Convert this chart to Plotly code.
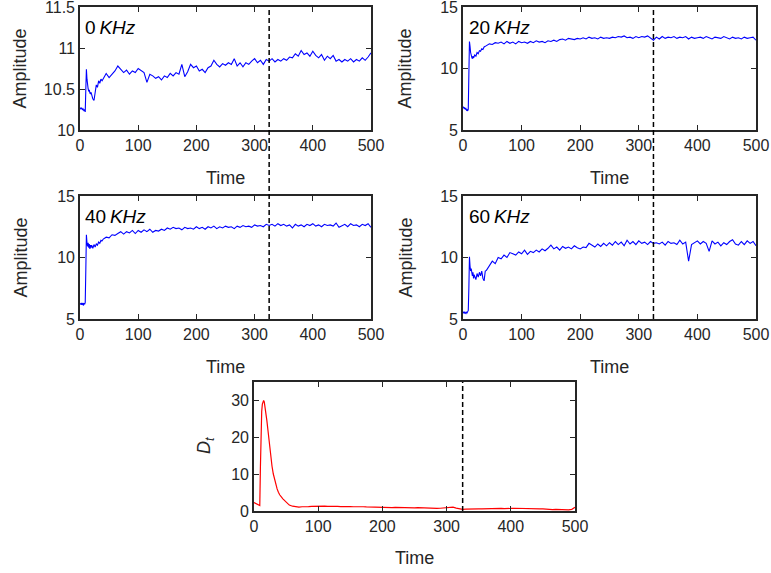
import plotly.graph_objects as go

# ---------------- data ----------------
time = list(range(0, 20, 1)) + list(range(20, 40, 2)) + list(range(40, 505, 5))

amp_0khz = [10.27, 10.26, 10.27, 10.26, 10.25, 10.26, 10.24, 10.23, 10.25, 10.22,
            10.50, 10.74, 10.62, 10.53, 10.50, 10.47, 10.49, 10.45, 10.44, 10.46,
            10.42, 10.38, 10.36, 10.47, 10.55, 10.52, 10.60, 10.57, 10.62, 10.60,
            10.63, 10.69, 10.64, 10.68, 10.72, 10.78, 10.74, 10.70, 10.73, 10.68,
            10.72, 10.70, 10.75, 10.72, 10.70, 10.58, 10.68, 10.66, 10.63, 10.65,
            10.61, 10.66, 10.64, 10.69, 10.66, 10.70, 10.68, 10.80, 10.65, 10.71,
            10.80, 10.76, 10.78, 10.72, 10.74, 10.70, 10.76, 10.78, 10.85, 10.80,
            10.77, 10.81, 10.79, 10.82, 10.80, 10.87, 10.78, 10.82, 10.77, 10.82,
            10.80, 10.84, 10.87, 10.82, 10.85, 10.80, 10.86, 10.84, 10.87, 10.83,
            10.86, 10.84, 10.87, 10.85, 10.89, 10.88, 10.93, 10.90, 10.97, 10.92,
            10.94, 10.90, 10.96, 10.91, 10.88, 10.92, 10.85, 10.90, 10.87, 10.91,
            10.84, 10.86, 10.83, 10.86, 10.84, 10.87, 10.83, 10.86, 10.84, 10.88,
            10.85, 10.89, 10.94]

amp_20khz = [6.8, 6.85, 6.75, 6.8, 6.7, 6.75, 6.6, 6.65, 6.55, 6.7,
             9.5, 12.2, 11.8, 11.3, 11.0, 10.9, 10.8, 11.0, 10.85, 11.0,
             11.1, 11.0, 11.3, 11.2, 11.45, 11.4, 11.6, 11.55, 11.75, 11.8,
             11.85, 12.0, 11.95, 12.1, 12.05, 12.15, 12.0, 12.2, 12.05, 12.15,
             12.0, 12.2, 12.1, 12.15, 12.05, 12.2, 12.1, 12.25, 12.15, 12.2,
             12.1, 12.25, 12.2, 12.3, 12.2, 12.35, 12.4, 12.3, 12.45, 12.4,
             12.35, 12.45, 12.4, 12.5, 12.4, 12.55, 12.45, 12.5, 12.4, 12.55,
             12.45, 12.5, 12.45, 12.55, 12.5, 12.6, 12.55, 12.65, 12.5, 12.55,
             12.45, 12.6, 12.5, 12.6, 12.55, 12.65, 12.5, 12.3, 12.55, 12.4,
             12.6, 12.45, 12.55, 12.5, 12.6, 12.45, 12.55, 12.5, 12.6, 12.4,
             12.55, 12.45, 12.5, 12.55, 12.45, 12.6, 12.5, 12.4, 12.55, 12.5,
             12.45, 12.6, 12.5, 12.4, 12.55, 12.45, 12.5, 12.4, 12.55, 12.45,
             12.5, 12.55, 12.3]

amp_40khz = [6.2, 6.25, 6.15, 6.3, 6.2, 6.25, 6.1, 6.3, 6.2, 6.35,
             9.0, 11.85, 11.2, 10.9, 11.2, 10.8, 11.1, 10.7, 11.0, 10.8,
             11.0, 10.75, 11.05, 10.85, 11.1, 11.0, 11.25, 11.15, 11.4, 11.35,
             11.5, 11.65, 11.6, 11.85, 11.8, 11.95, 12.1, 11.9, 12.1, 12.0,
             12.2, 11.95, 12.2, 12.05, 12.25, 12.1, 12.3, 12.05, 12.2, 12.15,
             12.3, 12.2, 12.4, 12.3, 12.45, 12.35, 12.4, 12.25, 12.45, 12.35,
             12.4, 12.3, 12.5, 12.35, 12.45, 12.3, 12.5, 12.4, 12.55, 12.35,
             12.5, 12.4, 12.55, 12.45, 12.5, 12.35, 12.55, 12.45, 12.6, 12.5,
             12.55, 12.45, 12.65, 12.55, 12.6, 12.5, 12.7, 12.6, 12.7, 12.55,
             12.75, 12.6, 12.7, 12.55, 12.65, 12.4, 12.7, 12.55, 12.65, 12.5,
             12.7, 12.6, 12.75, 12.55, 12.65, 12.5, 12.7, 12.6, 12.65, 12.55,
             12.8, 12.45, 12.6, 12.7, 12.5, 12.75, 12.6, 12.65, 12.5, 12.7,
             12.6, 12.75, 12.45]

amp_60khz = [5.5, 5.55, 5.45, 5.6, 5.5, 5.45, 5.55, 5.5, 5.6, 5.7,
             7.5, 10.05, 9.3, 8.9, 9.1, 8.7, 8.5, 8.8, 8.3, 8.6,
             8.5, 8.2, 8.7, 8.4, 8.8, 8.5, 8.9, 8.3, 8.1, 8.9,
             8.95, 9.3, 9.7, 9.5, 10.0, 9.9, 10.2, 10.0, 10.4, 10.3,
             10.2, 10.45, 10.3, 10.6, 10.25, 10.5, 10.4, 10.6, 10.45, 10.7,
             10.55, 10.75, 11.0, 10.7, 10.85, 10.6, 10.9, 10.75, 10.85, 10.7,
             10.95, 10.8, 10.7, 10.85, 10.8, 11.15, 11.0, 10.85, 11.1, 10.9,
             11.15, 10.95, 11.2, 11.0, 11.3, 11.05, 11.25, 10.95, 11.4, 11.1,
             11.3, 11.05, 11.35, 11.15, 11.25, 11.05, 11.3, 11.15, 11.2, 11.1,
             11.25, 11.0, 11.3, 11.15, 11.2, 11.05, 11.4, 11.1, 11.25, 9.7,
             11.05, 11.2, 11.35, 11.1, 11.3, 11.15, 10.5, 11.35, 11.1, 11.25,
             10.95, 11.2, 11.05, 11.3, 11.45, 11.1, 11.0, 11.3, 11.05, 11.35,
             11.15, 11.3, 10.95]

d_t = [2.3, 2.2, 2.1, 2.0, 1.9, 1.8, 1.7, 1.6, 1.5, 1.5,
       12.0, 22.0, 27.0, 29.0, 29.8, 30.0, 29.6, 28.5, 27.0, 25.7,
       24.6, 21.5, 18.0, 15.0, 12.2, 10.1, 8.5, 7.1, 6.0, 5.1,
       4.4, 3.3, 2.3, 1.6, 1.3, 1.1, 1.05, 1.15, 1.1, 1.2,
       1.25, 1.3, 1.35, 1.3, 1.3, 1.25, 1.3, 1.25, 1.25, 1.2,
       1.25, 1.2, 1.2, 1.15, 1.2, 1.1, 1.15, 1.1, 1.05, 1.1,
       1.0, 1.05, 1.0, 1.0, 0.95, 0.9, 1.0, 0.95, 0.95, 0.9,
       0.95, 0.9, 0.85, 0.9, 0.85, 0.8, 0.85, 0.8, 0.75, 0.7,
       0.75, 0.8, 0.9, 1.0, 1.05, 0.8, 0.55, 0.45, 0.5, 0.55,
       0.5, 0.55, 0.6, 0.55, 0.6, 0.55, 0.6, 0.65, 0.6, 0.7,
       0.65, 0.6, 0.7, 0.75, 0.7, 0.65, 0.6, 0.55, 0.6, 0.55,
       0.5, 0.55, 0.6, 0.5, 0.45, 0.4, 0.45, 0.4, 0.35, 0.3,
       0.3, 0.45, 1.0]

panel_labels = ["0", "20", "40", "60"]
x_ticks = [0, 100, 200, 300, 400, 500]
y_ticks_0 = [10, 10.5, 11, 11.5]
y_ticks_amp = [5, 10, 15]
y_ticks_dt = [0, 10, 20, 30]
marker_time = 325

# ---------------- layout geometry ----------------
W, H = 771, 573
def px_x(p):
    return p / W
def px_y(p):
    return 1 - p / H

col_left = [px_x(80), px_x(371)]
col_right = [px_x(463), px_x(756)]
col_mid = [px_x(254), px_x(575)]
row_top = [px_y(130), px_y(7)]
row_mid = [px_y(319), px_y(196)]
row_bot = [px_y(511), px_y(382)]

FONT = "Liberation Sans, Arial, sans-serif"
INK = "#262626"

fig = go.Figure()

series = [amp_0khz, amp_20khz, amp_40khz, amp_60khz]
for i, s in enumerate(series):
    fig.add_trace(go.Scatter(x=time, y=s, mode="lines",
                             line=dict(color="#0000ff", width=1.1),
                             xaxis=f"x{i+1 if i else ''}", yaxis=f"y{i+1 if i else ''}",
                             showlegend=False, hoverinfo="skip"))
fig.add_trace(go.Scatter(x=time, y=d_t, mode="lines",
                         line=dict(color="#ff0000", width=1.2),
                         xaxis="x5", yaxis="y5", showlegend=False, hoverinfo="skip"))

def axis_style(**kw):
    d = dict(showline=True, linecolor=INK, linewidth=1.8, mirror="ticks",
             ticks="inside", ticklen=5, tickwidth=1, tickcolor=INK,
             showgrid=False, zeroline=False, automargin=False,
             ticklabeloverflow="allow",
             tickfont=dict(family=FONT, size=16, color=INK))
    d.update(kw)
    return d

layout = dict(width=W, height=H, margin=dict(l=0, r=0, t=0, b=0),
              paper_bgcolor="white", plot_bgcolor="white", showlegend=False)

domains = [(col_left, row_top), (col_right, row_top), (col_left, row_mid),
           (col_right, row_mid), (col_mid, row_bot)]
yranges = [[10, 11.5], [5, 15], [5, 15], [5, 15], [0, 35]]
yticks = [y_ticks_0, y_ticks_amp, y_ticks_amp, y_ticks_amp, y_ticks_dt]
for i, ((dx, dy), yr, yt) in enumerate(zip(domains, yranges, yticks)):
    suffix = str(i + 1) if i else ""
    layout[f"xaxis{suffix}"] = axis_style(domain=dx, range=[0, 500], tickvals=x_ticks,
                                          anchor=f"y{suffix}")
    layout[f"yaxis{suffix}"] = axis_style(domain=dy, range=yr, tickvals=yt,
                                          anchor=f"x{suffix}")
fig.update_layout(**layout)

# axis titles as annotations
title_font = dict(family=FONT, size=18, color=INK)
for cx, cy in [(225.5, 178), (609.5, 178), (225.5, 367), (609.5, 367), (414.5, 558)]:
    fig.add_annotation(text="Time", x=px_x(cx), y=px_y(cy), xref="paper", yref="paper",
                       showarrow=False, font=title_font, xanchor="center", yanchor="middle")
for cx, cy in [(20, 68.5), (405, 68.5), (20, 257.5), (405, 257.5)]:
    fig.add_annotation(text="Amplitude", x=px_x(cx), y=px_y(cy), xref="paper", yref="paper",
                       showarrow=False, font=title_font, textangle=-90,
                       xanchor="center", yanchor="middle")
fig.add_annotation(text="<i>D</i><sub><i>t</i></sub>", x=px_x(205), y=px_y(446),
                   xref="paper", yref="paper", showarrow=False, font=title_font,
                   textangle=-90, xanchor="center", yanchor="middle")

# panel labels
for i, lab in enumerate(panel_labels):
    suffix = str(i + 1) if i else ""
    fig.add_annotation(text=f"{lab}\u2009<i>KHz</i>", x=0.012, y=0.935,
                       xref=f"x{suffix} domain", yref=f"y{suffix} domain",
                       showarrow=False, xanchor="left", yanchor="top",
                       font=dict(family=FONT, size=19, color="black"))

# dashed marker lines
dash_line = dict(color="black", width=1.5, dash="5px,3px")
fig.add_shape(type="line", xref="x", yref="paper", x0=marker_time, x1=marker_time,
              y0=row_mid[0], y1=row_top[1], line=dash_line)
fig.add_shape(type="line", xref="x2", yref="paper", x0=marker_time, x1=marker_time,
              y0=row_mid[0], y1=row_top[1], line=dash_line)
fig.add_shape(type="line", xref="x5", yref="y5 domain", x0=marker_time, x1=marker_time,
              y0=0, y1=1, line=dash_line)

fig.write_html("out.html", config={"displayModeBar": False, "staticPlot": True},
               post_script="document.body.style.margin='0px';document.body.style.overflow='hidden';")
